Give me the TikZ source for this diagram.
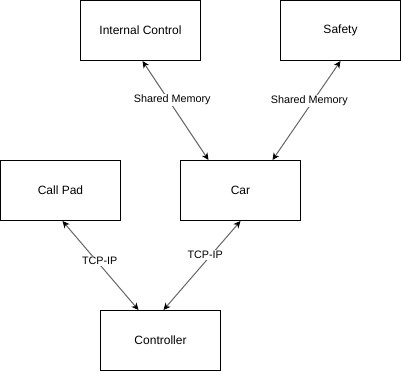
\documentclass[tikz,border=0pt]{standalone}
\usepackage{fontspec}
\setmainfont{Liberation Sans}
\usetikzlibrary{arrows.meta}

\tikzset{
    block/.style={draw, line width=1pt, minimum width=120pt, minimum height=60pt, inner sep=0pt, font=\fontsize{12}{14}\selectfont},
    link/.style={draw=black!60, line width=1pt, {Stealth[length=7pt,width=6.5pt,inset=2pt,color=black]}-{Stealth[length=7pt,width=6.5pt,inset=2pt,color=black]}},
    tag/.style={fill=white, inner sep=1pt, font=\fontsize{10.8}{12}\selectfont}
}

\begin{document}
\begin{tikzpicture}[x=1pt, y=-1pt]
    \useasboundingbox (-0.5,-0.5) rectangle (400.5,370.5);

    % Define the blocks
    \node[block] (intctl) at (140,30) {Internal Control};
    \node[block] (safety) at (340,30) {Safety};
    \node[block] (callpad) at (60,190) {Call Pad};
    \node[block] (car) at (240,190) {Car};
    \node[block] (ctrl) at (160,340) {Controller};

    % Shared memory links to the car
    \draw[link] ([xshift=2pt]intctl.south) -- node[tag, pos=0.39, xshift=4pt] {Shared Memory} ([xshift=-32pt]car.north);
    \draw[link] (safety.south) -- node[tag, pos=0.40, xshift=-4pt] {Shared Memory} ([xshift=32pt]car.north);

    % Network links to the controller
    \draw[link] ([xshift=2pt]callpad.south) -- node[tag, pos=0.45, xshift=3pt] {TCP-IP} ([xshift=-22pt]ctrl.north);
    \draw[link] (car.south) -- node[tag, pos=0.38, xshift=-6pt] {TCP-IP} ([xshift=3pt]ctrl.north);

\end{tikzpicture}
\end{document}
